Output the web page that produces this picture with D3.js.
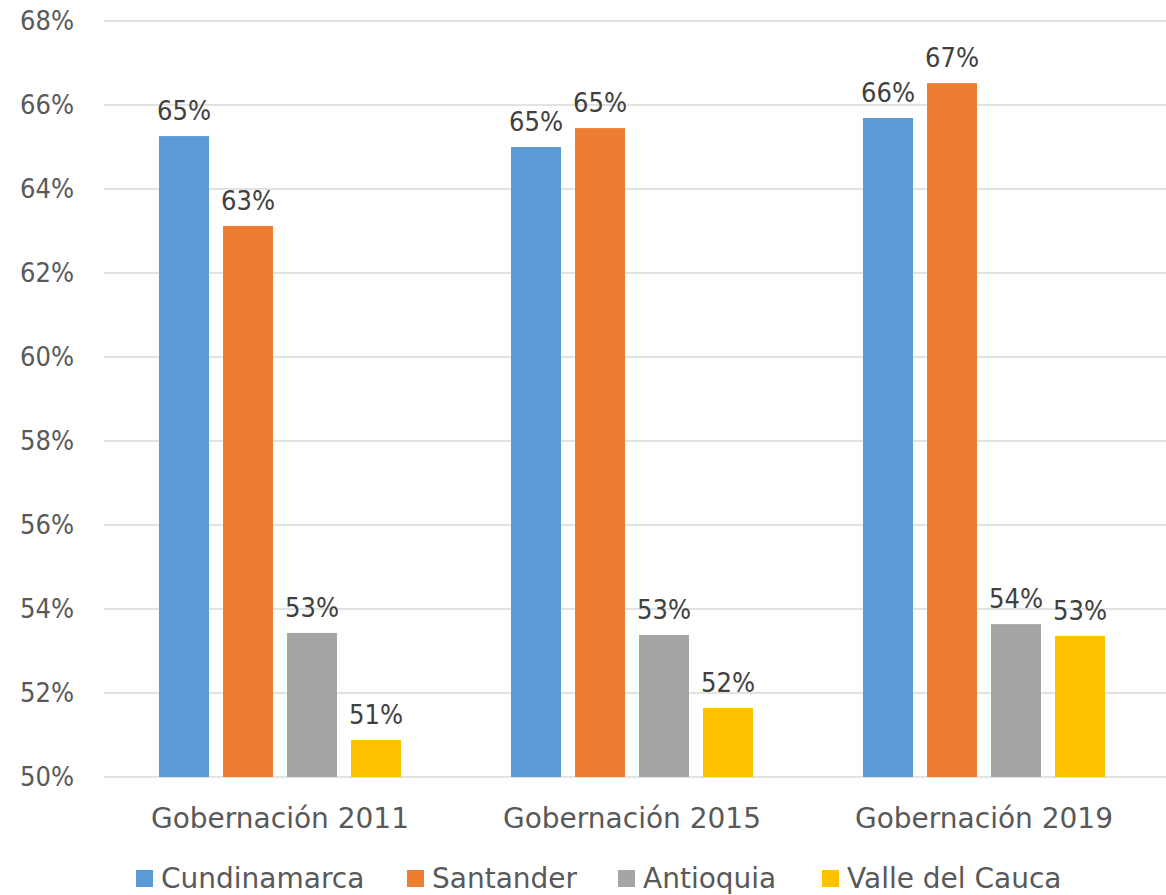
<!DOCTYPE html>
<html>
<head>
<meta charset="utf-8">
<script src="https://cdnjs.cloudflare.com/ajax/libs/d3/7.8.5/d3.min.js"></script>
<style>
  body { margin: 0; background: #fff; }
  text { font-family: "DejaVu Sans", sans-serif; }
</style>
</head>
<body>
<svg class="chart"></svg>
<script>
var categories = ['Gobernación 2011', 'Gobernación 2015', 'Gobernación 2019'];
var series = ['Cundinamarca', 'Santander', 'Antioquia', 'Valle del Cauca'];
var colors = ['#5B9BD5', '#ED7D31', '#A5A5A5', '#FFC000'];
// one row per category, one value per series
var values = [
  [0.6526, 0.6312, 0.5343, 0.5088],
  [0.6500, 0.6545, 0.5338, 0.5164],
  [0.6569, 0.6652, 0.5364, 0.5336]
];
var yTicks = [0.50, 0.52, 0.54, 0.56, 0.58, 0.60, 0.62, 0.64, 0.66, 0.68];

var width = 1166;
var height = 895;
var numFont = '"DejaVu Sans Condensed", "DejaVu Sans", sans-serif';
var chart = d3.select('.chart').attr('width', width).attr('height', height);

var x0 = d3.scaleBand().domain(categories).range([104, 1160])
  .paddingInner(0.3125).paddingOuter(0.15625);
var x1 = d3.scaleBand().domain(series).range([0, x0.bandwidth()]).paddingInner(0.21875);
var y = d3.scaleLinear().domain([0.50, 0.68]).range([777, 21]);
var color = d3.scaleOrdinal().domain(series).range(colors);

//gridlines
chart.append('g')
  .selectAll('line')
  .data(yTicks)
  .enter().append('line')
  .attr('x1', 104).attr('x2', width)
  .attr('y1', d => y(d)).attr('y2', d => y(d))
  .attr('stroke', '#d9d9d9').attr('stroke-width', 1.5);

//y axis labels
var yAxis = d3.axisLeft(y).tickValues(yTicks).tickFormat(d3.format('.0%')).tickSize(0).tickPadding(0);
chart.append('g')
  .attr('transform', 'translate(74,0)')
  .call(yAxis)
  .call(g => g.select('.domain').remove())
  .selectAll('text')
  .attr('font-size', 27)
  .attr('fill', '#595959')
  .style('font-family', numFont);

//bars
var groups = chart.append('g')
  .selectAll('g')
  .data(categories)
  .enter().append('g')
  .attr('transform', d => 'translate(' + x0(d) + ',0)');

groups.selectAll('rect')
  .data((d, i) => series.map((s, j) => ({ s: s, v: values[i][j] })))
  .enter().append('rect')
  .attr('x', d => x1(d.s))
  .attr('width', x1.bandwidth())
  .attr('y', d => y(d.v))
  .attr('height', d => y(0.50) - y(d.v))
  .attr('fill', d => color(d.s));

groups.selectAll('text')
  .data((d, i) => series.map((s, j) => ({ s: s, v: values[i][j] })))
  .enter().append('text')
  .attr('x', d => x1(d.s) + x1.bandwidth() / 2)
  .attr('y', d => y(d.v) - 16)
  .attr('text-anchor', 'middle')
  .attr('font-size', 27)
  .attr('fill', '#404040')
  .style('font-family', numFont)
  .text(d => d3.format('.0%')(d.v));

//x axis labels
var xAxis = d3.axisBottom(x0).tickSize(0).tickPadding(0);
chart.append('g')
  .attr('transform', 'translate(0,808)')
  .call(xAxis)
  .call(g => g.select('.domain').remove())
  .selectAll('text')
  .attr('font-size', 28)
  .attr('fill', '#595959')
  .style('font-family', '"DejaVu Sans", sans-serif');

//legend
var legendX = [136, 407, 618, 822];
var legend = chart.append('g')
  .selectAll('g')
  .data(series)
  .enter().append('g')
  .attr('transform', (d, i) => 'translate(' + legendX[i] + ',870)');
legend.append('rect')
  .attr('width', 17).attr('height', 17)
  .attr('fill', d => color(d));
legend.append('text')
  .attr('x', 25).attr('y', 18)
  .attr('font-size', 28)
  .attr('fill', '#595959')
  .text(d => d);
</script>
</body>
</html>
